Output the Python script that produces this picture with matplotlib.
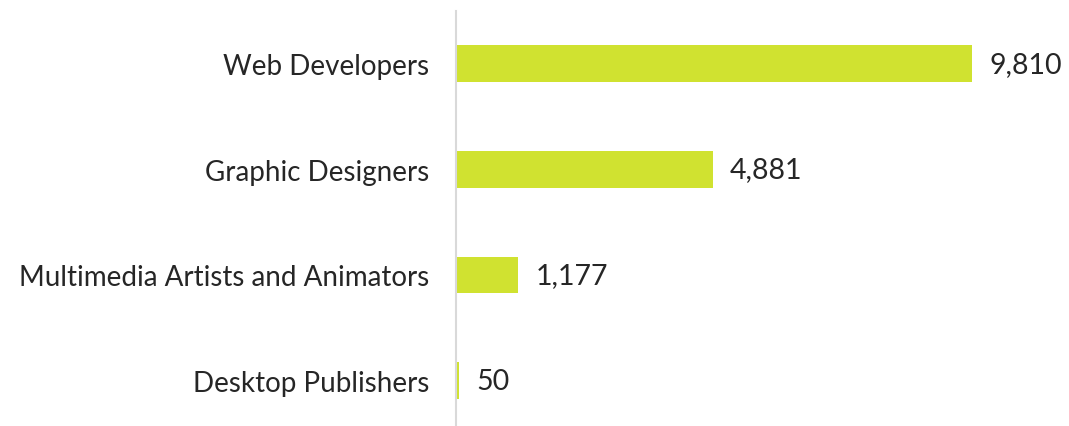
import matplotlib.pyplot as plt

categories = ["Web Developers", "Graphic Designers",
              "Multimedia Artists and Animators", "Desktop Publishers"]
values = [9810, 4881, 1177, 50]

plt.rcParams["font.family"] = ["Lato", "DejaVu Sans"]

W, H = 1069, 427
fig = plt.figure(figsize=(W / 100, H / 100), dpi=100)
# axes: left edge at the grey axis line, top at ~12 px
ax = fig.add_axes([456 / W, 0, 1 - 456 / W, 1 - 12 / H])

y = list(range(len(categories)))
ax.barh(y, values, height=0.35, color="#D0E230")
ax.set_ylim(3.43, -0.5)
ax.set_xlim(0, 11650)

for yi, v in zip(y, values):
    ax.text(v + 330, yi, f"{v:,}", va="center", ha="left",
            fontsize=20.5, color="#262626")

ax.set_yticks(y)
ax.set_yticklabels(categories, fontsize=20, color="#262626")
ax.tick_params(axis="y", length=0, pad=19)
ax.set_xticks([])
for s in ["top", "right", "bottom"]:
    ax.spines[s].set_visible(False)
ax.spines["left"].set_color("#D9D9D9")
ax.spines["left"].set_linewidth(1.5)

fig.savefig("out.png", dpi=100)
